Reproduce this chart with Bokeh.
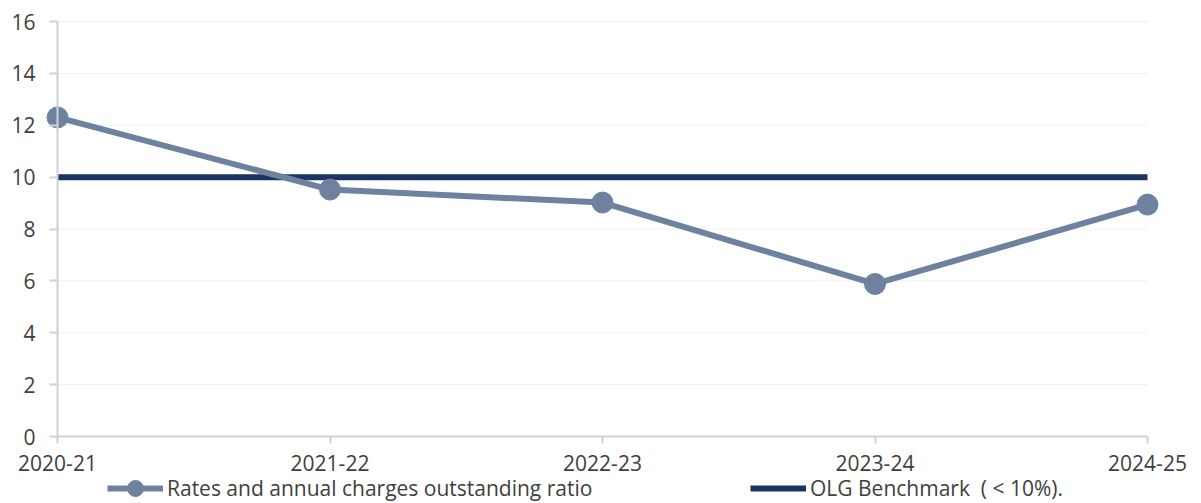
from bokeh.plotting import figure
from bokeh.models import Range1d, FixedTicker, Legend, LegendItem, ColumnDataSource
from bokeh.embed import file_html
from bokeh.resources import INLINE

categories = ["2020-21", "2021-22", "2022-23", "2023-24", "2024-25"]
ratio = [12.3, 9.52, 9.02, 5.88, 8.94]
benchmark = [10, 10, 10, 10, 10]
y_ticks = [0, 2, 4, 6, 8, 10, 12, 14, 16]

series_name = "Rates and annual charges outstanding ratio"
bench_name = "OLG Benchmark  ( < 10%)."

FONT = "Open Sans"
TXT = "#404040"
SERIES_C = "#6e82a0"
BENCH_C = "#1c3461"
AXIS_C = "#cbd2de"
GRID_C = "#f0f0f0"

x = list(range(len(categories)))
src = ColumnDataSource(dict(x=x, ratio=ratio, bench=benchmark))

W, H = 1201, 503
# frame covers the whole canvas; axes are fixed at data 0 so texts sit inside it
px_x = (1147 - 57) / (len(categories) - 1)
px_y = (436 - 21) / 16
x_range = Range1d(-57 / px_x, (len(categories) - 1) + (W - 1147) / px_x)
y_range = Range1d(-(H - 436) / px_y, 16 + 21 / px_y)

p = figure(width=W, height=H, output_backend="svg", toolbar_location=None,
           x_range=x_range, y_range=y_range,
           min_border_left=0, min_border_right=0, min_border_top=0, min_border_bottom=0)
p.outline_line_color = None
p.background_fill_color = "white"
p.border_fill_color = "white"
p.xgrid.grid_line_color = None
p.ygrid.grid_line_color = None

# horizontal grid lines limited to the category span
p.segment(x0=[x[0]] * len(y_ticks), x1=[x[-1]] * len(y_ticks), y0=y_ticks, y1=y_ticks,
          line_color=GRID_C, line_width=1)

# x axis
xa = p.xaxis[0]
xa.fixed_location = 0
xa.ticker = FixedTicker(ticks=x)
xa.major_label_overrides = {i: c for i, c in enumerate(categories)}
xa.bounds = (x[0], x[-1])
xa.axis_line_color = AXIS_C
xa.axis_line_width = 2
xa.major_tick_line_color = AXIS_C
xa.major_tick_line_width = 2
xa.major_tick_in = 0
xa.major_tick_out = 7
xa.minor_tick_line_color = None
xa.major_label_standoff = 11
xa.major_label_text_font = FONT
xa.major_label_text_font_size = "21px"
xa.major_label_text_color = TXT

# y axis
ya = p.yaxis[0]
ya.fixed_location = 0
ya.ticker = FixedTicker(ticks=y_ticks)
ya.bounds = (y_ticks[0], y_ticks[-1])
ya.axis_line_color = AXIS_C
ya.axis_line_width = 2
ya.major_tick_line_color = AXIS_C
ya.major_tick_line_width = 2
ya.major_tick_in = 0
ya.major_tick_out = 8
ya.minor_tick_line_color = None
ya.major_label_standoff = 14
ya.major_label_text_font = FONT
ya.major_label_text_font_size = "21px"
ya.major_label_text_color = TXT

# glyphs
bench_r = p.line("x", "bench", source=src, line_color=BENCH_C, line_width=6, line_cap="butt")
line_r = p.line("x", "ratio", source=src, line_color=SERIES_C, line_width=6, line_join="round")
pts_r = p.scatter("x", "ratio", source=src, size=21, fill_color=SERIES_C, line_color=SERIES_C)

def make_legend(item, loc):
    return Legend(items=[item], location=loc, orientation="horizontal",
                  glyph_width=56, glyph_height=40, label_standoff=4,
                  padding=0, margin=0, spacing=0,
                  border_line_color=None, background_fill_alpha=0,
                  label_text_font=FONT, label_text_font_size="21px",
                  label_text_color=TXT)

p.add_layout(make_legend(LegendItem(label=series_name, renderers=[line_r, pts_r]), (107, -5)), "center")
p.add_layout(make_legend(LegendItem(label=bench_name, renderers=[bench_r]), (750, -5)), "center")

open("out.html", "w").write(file_html(p, INLINE))
